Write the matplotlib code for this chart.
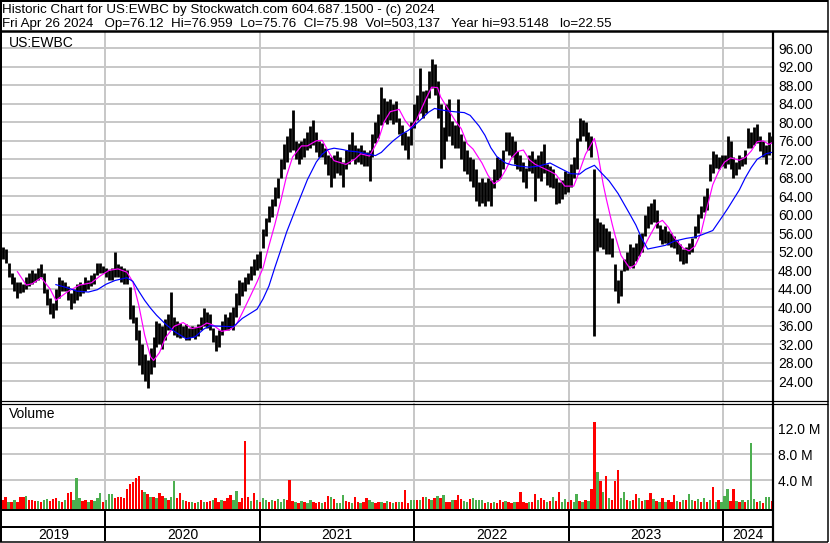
import datetime as dt

import matplotlib
matplotlib.use("Agg")
import matplotlib.pyplot as plt
import matplotlib.dates as mdates

plt.rcParams['font.family'] = ['Liberation Sans', 'DejaVu Sans']

# ------------------------------------------------------------------
# DATA (weekly bars, week 0 = Fri 2019-05-03)
# ------------------------------------------------------------------
FIRST_WEEK = dt.date(2019, 5, 3)

week_high = [
    53.0, 52.5, 49.5, 47.5, 46.5, 45.5, 45.5, 45.0, 46.5, 47.5,
    48.0, 47.5, 48.5, 49.3, 47.5, 44.0, 42.0, 41.0, 44.0, 46.5,
    46.0, 45.5, 44.5, 43.0, 44.0, 45.0, 45.5, 45.0, 46.5, 46.0,
    47.0, 47.5, 49.6, 49.5, 49.0, 48.5, 48.0, 48.5, 52.0, 49.3,
    49.0, 48.5, 48.0, 44.3, 40.6, 38.0, 35.0, 32.0, 30.0, 28.5,
    31.3, 33.5, 37.0, 36.5, 36.0, 37.5, 38.5, 43.2, 38.0, 37.0,
    36.5, 36.0, 36.3, 35.5, 36.0, 35.8, 36.3, 38.0, 39.9, 39.0,
    38.5, 35.6, 34.0, 35.0, 37.0, 38.5, 38.0, 39.0, 40.0, 43.0,
    46.0, 45.5, 46.5, 47.5, 49.0, 50.5, 51.5, 52.2, 57.0, 59.4,
    62.0, 63.4, 66.0, 68.0, 72.0, 75.2, 77.0, 78.8, 82.6, 76.0,
    75.5, 76.0, 76.5, 78.0, 79.2, 80.4, 78.0, 76.0, 75.5, 74.5,
    73.0, 72.5, 73.0, 73.7, 72.5, 71.5, 74.0, 75.2, 78.0, 75.0,
    74.5, 75.0, 74.0, 73.5, 74.0, 77.5, 80.0, 81.7, 87.7, 85.3,
    84.5, 85.0, 84.0, 84.5, 81.0, 79.5, 78.0, 77.0, 80.0, 84.0,
    86.0, 91.7, 86.8, 87.0, 91.0, 93.6, 92.5, 89.0, 84.0, 79.0,
    84.0, 85.0, 80.3, 79.5, 85.0, 77.5, 76.0, 74.0, 72.4, 72.0,
    70.0, 67.0, 68.0, 67.0, 68.0, 67.5, 70.0, 72.4, 72.0, 74.0,
    78.0, 78.0, 77.0, 76.0, 73.8, 73.0, 71.5, 70.2, 73.0, 73.8,
    72.0, 73.0, 73.8, 75.2, 70.9, 70.5, 70.0, 68.0, 67.0, 67.5,
    69.5, 69.0, 71.0, 72.4, 76.7, 81.0, 80.5, 80.0, 78.0, 77.0,
    70.0, 59.4, 58.5, 58.0, 57.2, 56.5, 55.0, 49.3, 46.0, 48.0,
    50.5, 52.0, 53.6, 53.0, 54.0, 55.8, 56.0, 60.0, 62.0, 62.5,
    63.4, 61.0, 57.9, 57.0, 57.5, 56.5, 56.0, 55.5, 54.5, 53.6,
    52.5, 53.0, 54.0, 55.0, 57.5, 60.1, 62.0, 64.0, 65.9, 71.0,
    73.8, 73.1, 72.5, 73.0, 73.0, 77.1, 76.0, 72.5, 71.5, 73.0,
    72.5, 74.0, 78.8, 78.0, 79.0, 79.6, 77.0, 76.0, 75.0, 78.0,
    77.0,
]

week_low = [
    50.5, 49.5, 46.5, 45.0, 43.5, 42.0, 43.0, 43.2, 44.0, 44.5,
    45.0, 45.5, 46.0, 46.5, 43.0, 40.5, 38.5, 37.6, 39.5, 42.0,
    43.5, 43.5, 41.5, 39.6, 41.0, 41.5, 42.5, 43.0, 43.5, 44.0,
    44.5, 45.0, 47.0, 47.5, 47.5, 46.5, 46.0, 46.0, 46.5, 46.5,
    45.5, 45.0, 45.0, 37.5, 36.5, 33.0, 27.5, 25.5, 24.0, 22.6,
    25.5, 27.0, 31.5, 32.0, 31.0, 33.0, 35.0, 35.0, 34.0, 33.5,
    33.4, 33.5, 33.0, 33.0, 33.5, 33.2, 33.8, 35.0, 36.0, 35.5,
    35.0, 32.5, 30.6, 31.5, 34.0, 35.0, 35.0, 35.5, 35.0, 38.0,
    40.6, 42.5, 43.5, 45.0, 46.0, 47.0, 48.0, 48.5, 52.9, 55.5,
    58.5, 59.5, 62.0, 63.7, 68.0, 70.0, 71.5, 73.5, 74.0, 72.0,
    71.0, 72.0, 72.5, 74.0, 74.5, 75.0, 73.5, 72.4, 72.4, 71.0,
    68.5, 66.0, 68.0, 69.0, 68.5, 66.0, 70.0, 71.0, 72.0, 71.0,
    71.5, 71.0, 70.5, 70.5, 67.3, 72.5, 75.5, 76.5, 79.5, 80.0,
    79.6, 80.5, 79.6, 80.0, 77.5, 75.0, 74.0, 72.0, 75.0, 78.8,
    80.5, 82.0, 81.0, 82.0, 85.3, 87.5, 86.0, 81.0, 70.2, 72.0,
    76.0, 77.0, 75.0, 74.5, 74.5, 72.0, 69.5, 68.8, 67.3, 66.0,
    63.0, 61.9, 62.5, 62.0, 63.0, 62.0, 65.9, 67.5, 68.0, 70.0,
    73.8, 73.0, 72.4, 71.0, 70.0, 69.5, 67.0, 65.9, 69.5, 69.0,
    63.0, 68.0, 67.3, 69.0, 66.5, 66.0, 65.9, 62.3, 62.5, 63.5,
    64.4, 65.0, 66.0, 68.0, 70.0, 76.0, 77.0, 76.0, 74.0, 72.4,
    33.8, 52.2, 53.0, 52.5, 51.5, 51.5, 50.8, 43.5, 41.0, 42.5,
    47.9, 48.0, 49.0, 48.5, 50.0, 51.0, 52.0, 55.5, 57.2, 58.0,
    58.5, 57.2, 54.5, 53.6, 54.0, 53.5, 53.0, 52.9, 51.5, 50.0,
    49.3, 49.5, 51.5, 52.0, 55.0, 56.0, 59.4, 60.5, 61.0, 67.3,
    69.0, 70.2, 70.0, 70.5, 70.2, 71.0, 70.0, 68.0, 68.5, 70.0,
    70.5, 71.0, 74.5, 74.5, 75.0, 75.5, 73.8, 72.5, 70.9, 73.0,
    75.5,
]

# moving averages: (week index, value)
ma_fast_week = [
    5, 8, 10, 13, 16, 18, 22, 26, 30, 33, 36, 39, 42, 44, 46, 48, 50, 51, 53, 55,
    58, 61, 64, 67, 69, 71, 74, 77, 79, 81, 84, 86, 88, 90, 92, 94, 96, 98, 101, 103,
    106, 108, 110, 112, 116, 119, 121, 124, 127, 129, 131, 134, 136, 138, 140, 143, 145, 147, 148, 150,
    153, 155, 157, 159, 162, 164, 166, 168, 170, 172, 174, 176, 178, 180, 183, 185, 187, 190, 193, 195,
    197, 200, 201, 203, 204, 206, 207, 209, 212, 214, 216, 218, 221, 223, 225, 227, 230, 232, 234, 236,
    238, 240, 242, 244, 246, 249, 251, 253, 255, 257, 259, 260,
]
ma_fast_val = [
    47.7, 44.8, 45.1, 46.4, 44.0, 41.5, 43.4, 44.8, 45.3, 46.8, 48.0, 48.3, 47.6, 45.5, 40.5, 34.0, 29.3, 28.5, 30.2, 33.4,
    35.9, 36.7, 35.4, 35.8, 36.6, 36.2, 34.8, 35.2, 36.3, 38.8, 42.8, 45.5, 48.5, 53.3, 57.9, 63.0, 68.5, 72.5, 74.9, 74.9,
    76.0, 76.1, 73.8, 71.7, 70.9, 72.0, 73.2, 72.7, 76.2, 80.2, 82.3, 82.8, 80.4, 78.8, 80.7, 85.0, 87.6, 87.5, 85.5, 83.4,
    80.3, 78.6, 75.4, 74.2, 71.2, 68.6, 66.7, 67.5, 69.7, 72.3, 73.7, 74.0, 71.9, 70.9, 70.0, 69.4, 68.7, 66.2, 66.2, 69.5,
    73.1, 76.5, 73.8, 66.5, 63.5, 58.0, 55.5, 51.2, 48.4, 49.3, 52.0, 54.6, 58.1, 58.8, 57.3, 55.0, 52.8, 52.2, 53.2, 56.0,
    61.4, 66.5, 69.4, 71.4, 72.3, 71.8, 72.4, 73.8, 75.8, 76.0, 75.2, 75.6,
]

ma_slow_week = [
    18, 22, 25, 29, 32, 35, 38, 42, 44, 46, 48, 50, 52, 55, 58, 62, 65, 68, 70, 74,
    78, 81, 84, 86, 88, 90, 92, 94, 96, 99, 101, 103, 106, 108, 110, 112, 115, 117, 120, 123,
    126, 128, 130, 132, 135, 137, 139, 141, 144, 146, 148, 151, 154, 156, 158, 161, 163, 165, 167, 170,
    172, 175, 178, 181, 185, 188, 192, 195, 197, 200, 202, 205, 208, 212, 214, 216, 218, 221, 224, 227,
    231, 234, 236, 240, 243, 245, 249, 251, 253, 255, 258, 260,
]
ma_slow_val = [
    44.9, 44.2, 43.5, 43.3, 43.8, 45.0, 45.8, 46.4, 45.6, 43.5, 41.5, 39.8, 38.3, 36.4, 34.8, 33.2, 33.6, 35.3, 36.0, 35.9,
    35.8, 37.6, 38.8, 39.6, 41.8, 44.6, 48.6, 52.4, 56.3, 61.2, 64.4, 67.6, 71.4, 73.1, 74.1, 74.4, 74.1, 73.8, 73.6, 73.2,
    72.8, 73.5, 74.8, 76.0, 77.5, 78.2, 79.2, 80.4, 82.2, 83.0, 82.7, 82.4, 82.2, 82.1, 81.5, 79.2, 77.2, 74.5, 72.6, 71.2,
    70.8, 70.5, 70.3, 70.5, 71.2, 70.2, 68.9, 68.8, 69.8, 70.7, 69.3, 67.3, 64.6, 60.1, 57.8, 54.9, 52.6, 53.0, 53.4, 54.3,
    54.9, 55.2, 55.6, 56.6, 59.4, 61.3, 65.4, 68.0, 70.2, 72.0, 73.2, 73.5,
]

# weekly volume (millions) and up/down colour code (g = up, r = down)
week_volume = [
    0.9, 1.5, 0.7, 0.6, 0.9, 0.7, 1.5, 1.5, 1.6, 0.9,
    1.0, 0.8, 0.8, 0.6, 0.9, 1.1, 0.8, 1.1, 1.3, 0.8,
    0.7, 1.0, 2.1, 2.15, 0.9, 4.4, 1.2, 0.8, 0.9, 0.7,
    1.0, 0.8, 1.2, 2.1, 0.7, 1.0, 1.9, 1.9, 1.2, 1.5,
    1.5, 1.2, 2.6, 3.4, 3.8, 4.4, 4.7, 2.5, 2.2, 1.9,
    1.5, 1.4, 1.2, 2.0, 1.6, 1.3, 1.0, 1.4, 3.9, 1.2,
    2.1, 0.9, 0.8, 0.6, 0.7, 0.5, 0.7, 0.9, 0.6, 0.7,
    0.8, 0.9, 1.3, 0.7, 0.9, 0.8, 1.2, 1.8, 1.0, 2.3,
    0.7, 1.3, 10.1, 1.5, 0.8, 2.0, 0.9, 0.7, 1.2, 0.9,
    0.6, 1.0, 0.8, 1.1, 0.7, 1.1, 0.9, 4.0, 0.8, 0.6,
    0.5, 0.8, 0.6, 0.5, 1.0, 0.6, 0.5, 0.7, 0.5, 0.6,
    1.6, 1.4, 1.1, 0.5, 0.5, 1.7, 0.8, 0.6, 0.5, 1.4,
    0.6, 0.5, 0.6, 1.3, 1.0, 0.6, 0.5, 0.7, 0.6, 0.5,
    0.8, 0.6, 0.5, 0.7, 0.6, 0.6, 2.5, 0.5, 1.0, 1.0,
    1.0, 0.9, 1.5, 1.4, 1.1, 1.0, 1.2, 1.6, 1.2, 1.8,
    0.7, 0.6, 0.9, 1.0, 1.7, 1.1, 0.8, 0.7, 1.1, 1.2,
    1.0, 0.9, 1.0, 0.5, 0.6, 0.5, 0.7, 0.5, 0.9, 0.6,
    0.8, 0.6, 0.5, 0.7, 0.6, 2.2, 0.6, 0.5, 0.7, 0.6,
    1.9, 1.0, 1.2, 0.9, 0.7, 0.8, 1.4, 0.8, 2.2, 0.7,
    1.1, 0.6, 0.9, 0.7, 1.9, 0.8, 0.7, 0.9, 0.8, 2.6,
    13.0, 5.2, 3.9, 2.2, 4.6, 1.3, 1.0, 3.9, 5.6, 1.3,
    2.2, 1.0, 0.8, 1.0, 1.9, 1.2, 0.8, 1.0, 0.9, 2.1,
    1.1, 0.8, 0.6, 1.2, 0.7, 0.9, 0.6, 1.8, 0.8, 0.6,
    0.9, 1.0, 1.9, 1.0, 0.8, 1.1, 0.7, 1.2, 0.6, 1.0,
    2.9, 0.7, 0.9, 0.6, 1.6, 2.6, 0.8, 2.6, 0.8, 0.7,
    0.9, 0.6, 1.0, 9.7, 1.1, 0.6, 0.8, 0.5, 1.5, 1.5,
    0.8,
]
week_updown = (
    "rrgrgrrrgr" "rrgrggrrrg" "rgrrgggrrg" "rgggrgggrr" "rrrrrrrrgr"
    "grgrrgrggr" "rgrrgrgrgr" "rgrrgrrrgg" "rrrrgrgrgg" "rgrgggrrrg"
    "rgrggrrrgr" "rgrgggrrgr" "rgrrggrrgr" "grgrgrrrgg" "rgrgrgrgrg"
    "rrgrrrggrg" "gggrgrgrrr" "grrgrrrrgr" "rgrrgrgrrg" "grrggrgrgr"
    "rgrgrgrrrg" "grgrrgrgrr" "grgrgrrrgr" "grggrgrgrg" "rgrgggrrgr"
    "grgggrgrgg" "r"
)

YEARS = [2019, 2020, 2021, 2022, 2023, 2024]
PRICE_TICKS = list(range(24, 97, 4))
VOLUME_TICKS = [4, 8, 12]

HEADER_1 = "Historic Chart for US:EWBC by Stockwatch.com 604.687.1500 - (c) 2024"
HEADER_2 = ("Fri Apr 26 2024   Op=76.12  Hi=76.959  Lo=75.76  Cl=75.98  "
            "Vol=503,137   Year hi=93.5148   lo=22.55")

# ------------------------------------------------------------------
# LAYOUT HELPERS (pixel boxes on an 830 x 543 canvas)
# ------------------------------------------------------------------
W, H = 830, 543
GRID = "#c8c8c8"
GREEN = "#4caf50"


def box(x0, y0, x1, y1):
    return [x0 / W, 1 - y1 / H, (x1 - x0) / W, (y1 - y0) / H]


def px(n):
    return n * 72 / 100


week0 = mdates.date2num(FIRST_WEEK)
wx = [week0 + 7 * i for i in range(len(week_high))]
x_min, x_max = wx[0] - 1.5, wx[-1] + 2.5
year_x = [mdates.date2num(dt.date(y, 1, 1)) for y in YEARS[1:]]

fig = plt.figure(figsize=(W / 100, H / 100), dpi=100)
fig.patch.set_facecolor("white")

# ---------------- price panel ----------------
ax = fig.add_axes(box(2, 31, 773, 401))
ax.set_xlim(x_min, x_max)
ax.set_ylim(19.74, 99.74)
ax.set_xticks(year_x)
ax.set_yticks(PRICE_TICKS)
ax.set_yticklabels(["%.2f" % v for v in PRICE_TICKS], fontsize=10)
ax.yaxis.tick_right()
ax.tick_params(axis="y", length=0, pad=px(5))
ax.tick_params(axis="x", length=0, labelbottom=False)
ax.grid(True, color=GRID, lw=px(2))
ax.set_axisbelow(True)
for s in ax.spines.values():
    s.set_visible(False)

ax.vlines(wx, week_low, week_high, color="black", lw=px(2.8))
ax.plot([week0 + 7 * w for w in ma_fast_week], ma_fast_val, color="#ff00ff", lw=px(1.2))
ax.plot([week0 + 7 * w for w in ma_slow_week], ma_slow_val, color="#0000ff", lw=px(1.2))
ax.text(7 / 771, 1 - 16 / 370, "US:EWBC", transform=ax.transAxes, fontsize=10,
        ha="left", va="baseline")

# ---------------- volume panel ----------------
vax = fig.add_axes(box(2, 403, 773, 510))
vax.set_xlim(x_min, x_max)
vax.set_ylim(-0.57, 15.89)
vax.set_xticks(year_x)
vax.set_yticks(VOLUME_TICKS)
vax.set_yticklabels(["%.1f M" % v for v in VOLUME_TICKS], fontsize=10)
vax.yaxis.tick_right()
vax.tick_params(axis="y", length=0, pad=px(5))
vax.tick_params(axis="x", length=0, labelbottom=False)
vax.grid(True, color=GRID, lw=px(2))
vax.set_axisbelow(True)
for s in vax.spines.values():
    s.set_visible(False)

colors = ["#ff0000" if c == "r" else GREEN for c in week_updown]
base = -0.57
vax.bar(wx, [v - base for v in week_volume], bottom=base, width=5.6,
        color=colors, lw=0)
vax.text(7 / 771, 1 - 15 / 107, "Volume", transform=vax.transAxes, fontsize=10,
         ha="left", va="baseline")

# ---------------- year strips ----------------
for (y0, y1, labels) in [(510, 527, False), (527, 541, True)]:
    sax = fig.add_axes(box(2, y0, 773, y1))
    sax.set_xlim(x_min, x_max)
    sax.set_ylim(0, 1)
    sax.axis("off")
    sax.vlines(year_x, 0, 1, color="black", lw=px(2))
    if labels:
        edges = [x_min] + year_x + [x_max]
        for yr, a, b in zip(YEARS, edges[:-1], edges[1:]):
            sax.text((a + b) / 2, 0.45, str(yr), ha="center", va="center", fontsize=10)

# ---------------- header ----------------
fig.text(2 / W, 1 - 12.5 / H, HEADER_1, fontsize=9.65, ha="left", va="baseline")
fig.text(2 / W, 1 - 26.5 / H, HEADER_2, fontsize=9.65, ha="left", va="baseline")

# ---------------- frame lines (pixel overlay) ----------------
over = fig.add_axes([0, 0, 1, 1])
over.set_xlim(0, W)
over.set_ylim(H, 0)
over.axis("off")
over.patch.set_alpha(0)
frame = [
    ((0, 828), (1, 1), 2),
    ((1, 1), (0, 542), 2),
    ((827.5, 827.5), (0, 542), 1.5),
    ((0, 828), (541.5, 541.5), 1.5),
    ((0, 828), (30.5, 30.5), 2.5),
    ((0, 828), (401, 401), 1.2),
    ((0, 828), (403.5, 403.5), 1.2),
    ((773, 773), (31, 542), 2.2),
    ((0, 773), (510, 510), 2),
    ((0, 773), (527, 527), 2),
]
for xs, ys, w in frame:
    over.plot(xs, ys, color="black", lw=px(w), solid_capstyle="butt")

fig.savefig("out.png", dpi=100)
